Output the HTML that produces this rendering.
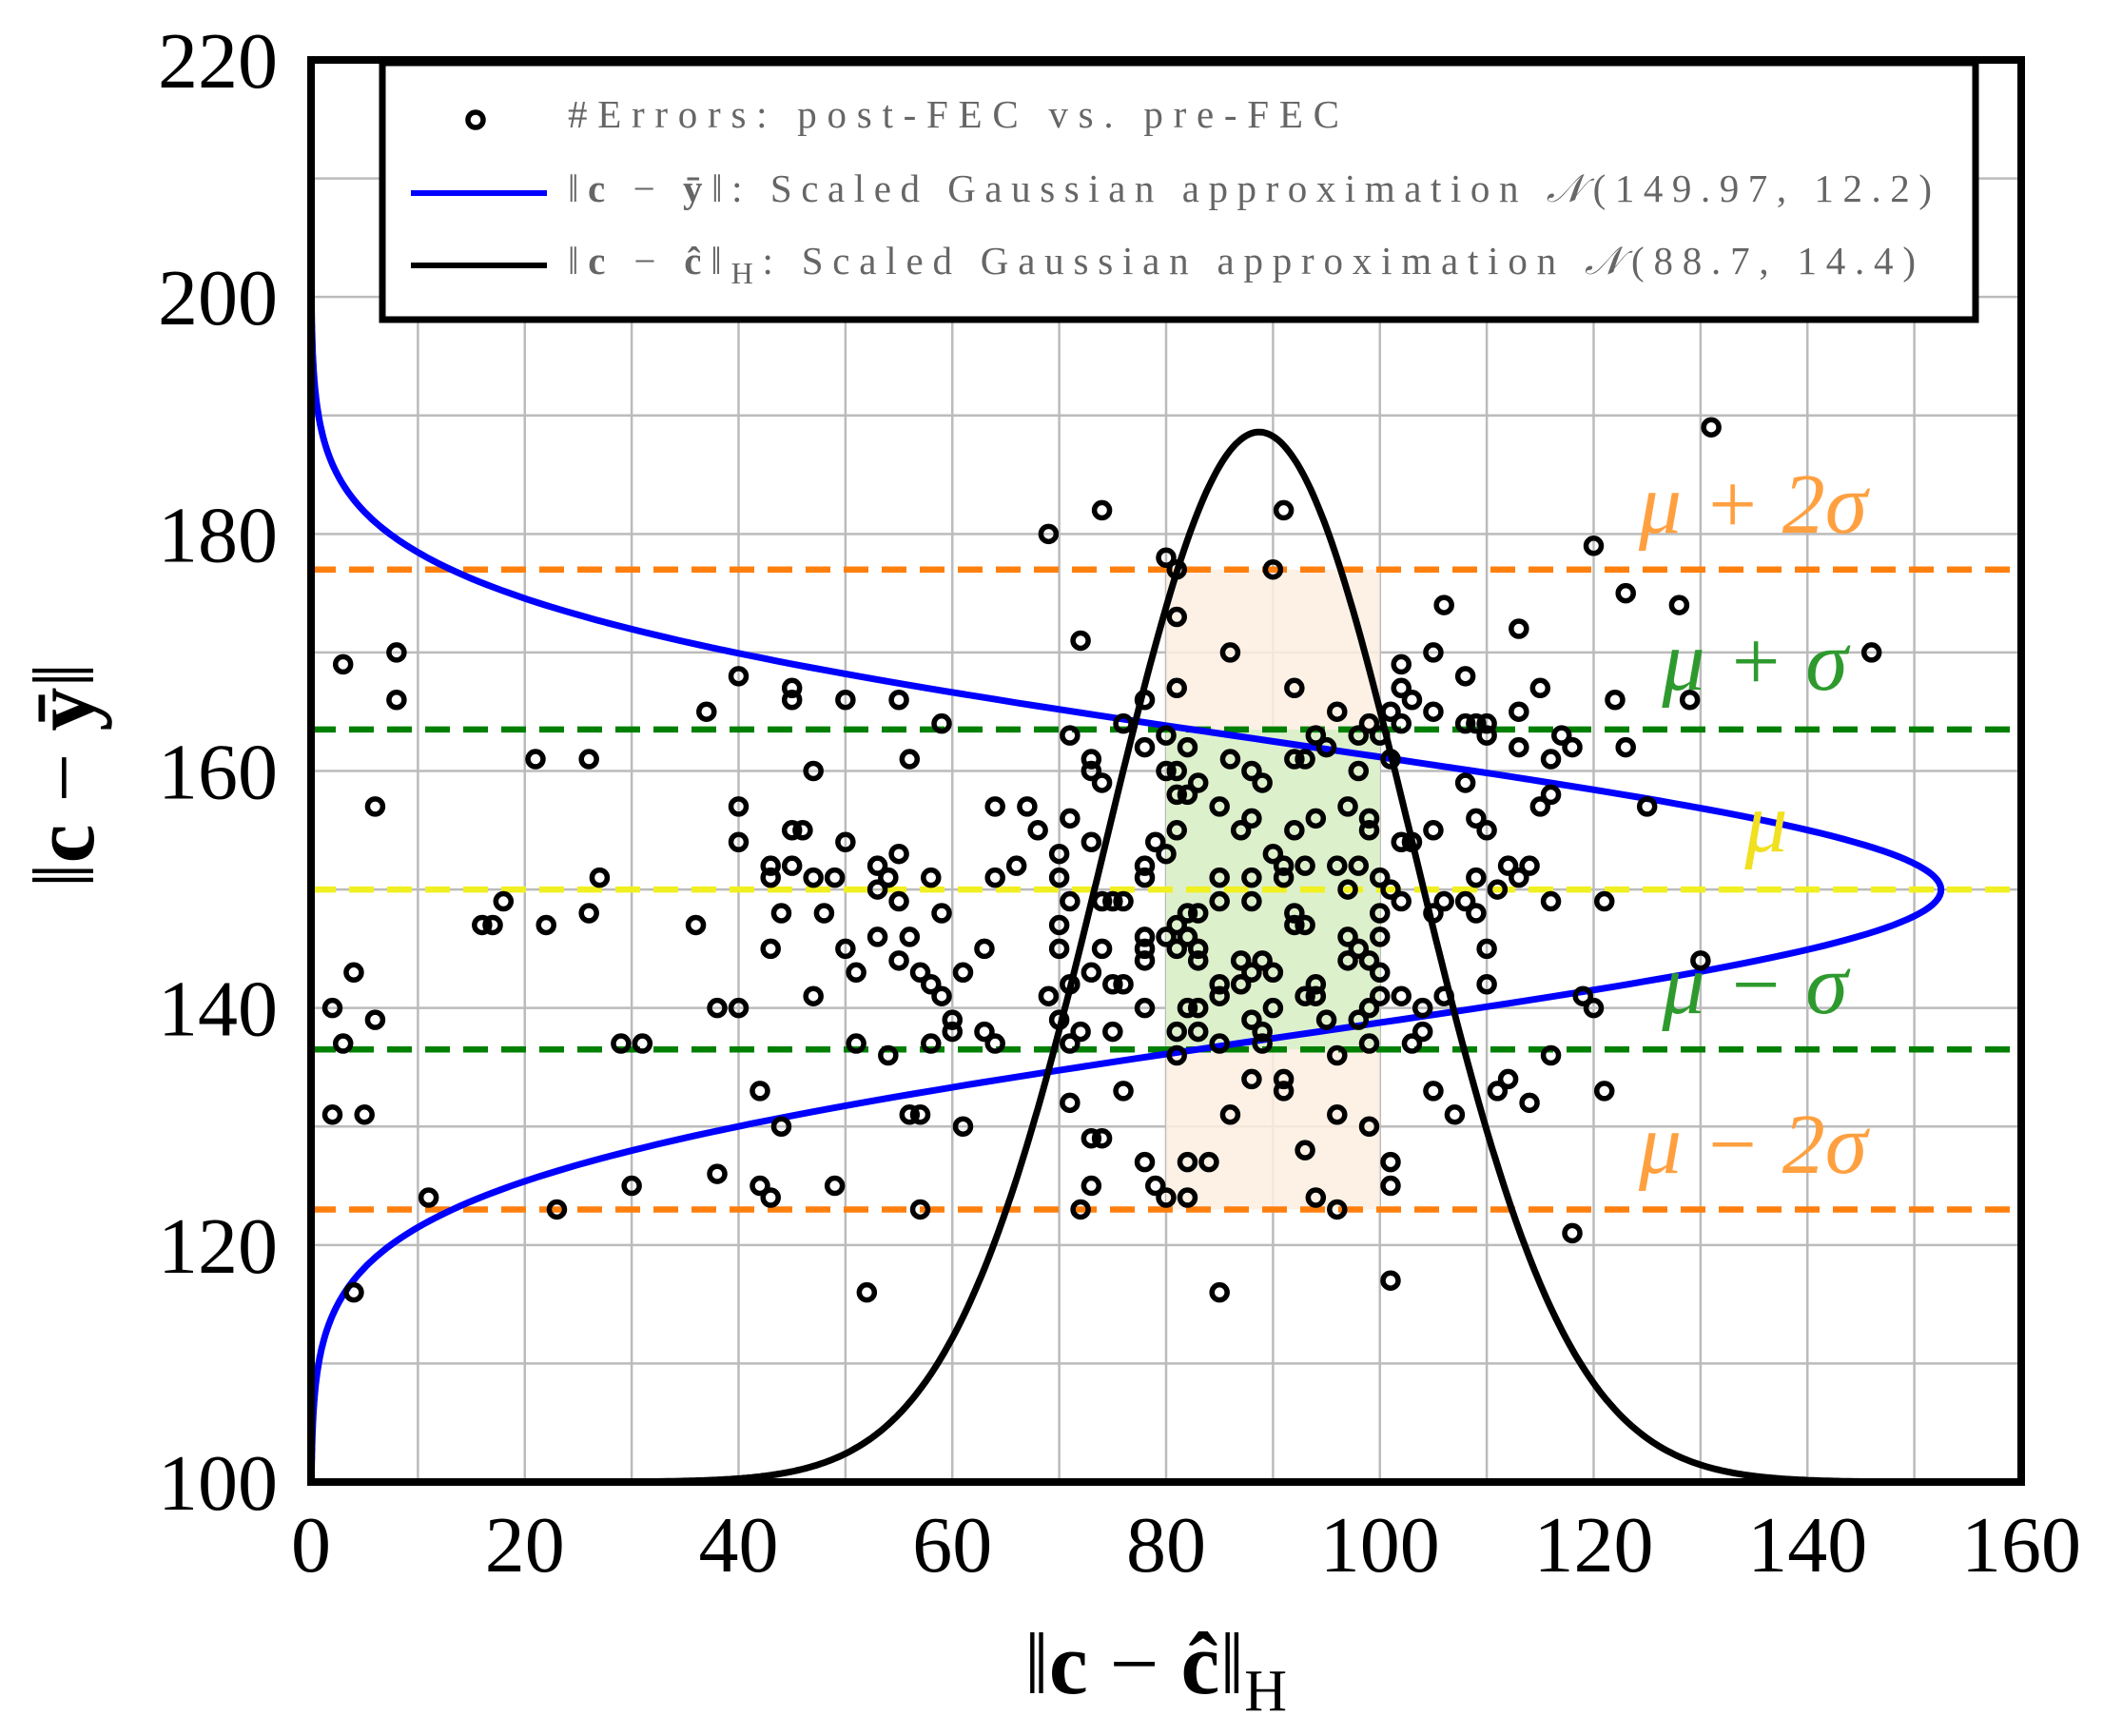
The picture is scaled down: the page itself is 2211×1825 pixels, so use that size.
<!DOCTYPE html>
<html><head><meta charset="utf-8"><style>
html,body{margin:0;padding:0;background:#fff}
svg{display:block}
text{font-family:"Liberation Serif","DejaVu Serif",serif}
</style></head><body>
<svg id="chart" width="2211" height="1825" viewBox="0 0 2211 1825" xmlns="http://www.w3.org/2000/svg">
<g id="grid"></g>
<g id="bands"></g>
<g id="hlines"></g>
<g id="curves"></g>
<g id="points"></g>
<rect x="327" y="63" width="1798" height="1495" fill="none" stroke="#000" stroke-width="8"/>
<g id="ticks"></g>
<g id="labels" font-style="italic" font-size="90">
<text x="1843" y="560" fill="#ffa040" text-anchor="middle">μ + 2σ</text>
<text x="1845" y="725" fill="#2e9a2e" text-anchor="middle">μ + σ</text>
<text x="1857" y="895" fill="#f0e020" text-anchor="middle">μ</text>
<text x="1845" y="1065" fill="#2e9a2e" text-anchor="middle">μ − σ</text>
<text x="1843" y="1233" fill="#ffa040" text-anchor="middle">μ − 2σ</text>
</g>
<g>
<rect x="402" y="66" width="1675" height="270" fill="#fff" stroke="#000" stroke-width="7"/>
<circle cx="500" cy="126" r="8" fill="none" stroke="#000" stroke-width="5.5"/>
<text x="597" y="134" font-size="41" fill="#666" textLength="811" lengthAdjust="spacing">#Errors: post-FEC vs. pre-FEC</text>
<line x1="432" y1="203" x2="575" y2="203" stroke="#0000ff" stroke-width="6"/>
<text x="597" y="212" font-size="41" fill="#666" textLength="1434" lengthAdjust="spacing">‖<tspan font-weight="bold">c</tspan> − <tspan font-weight="bold">ȳ</tspan>‖: Scaled Gaussian approximation <tspan font-style="italic">𝒩</tspan>(149.97, 12.2)</text>
<line x1="432" y1="279" x2="575" y2="279" stroke="#000" stroke-width="6"/>
<text x="597" y="288" font-size="41" fill="#666" textLength="1417" lengthAdjust="spacing">‖<tspan font-weight="bold">c</tspan> − <tspan font-weight="bold">ĉ</tspan>‖<tspan font-size="32" dy="10">H</tspan><tspan dy="-10">: Scaled Gaussian approximation </tspan><tspan font-style="italic">𝒩</tspan>(88.7, 14.4)</text>
</g>
<text x="1215" y="1780" font-size="92" text-anchor="middle">‖<tspan font-weight="bold">c</tspan> − <tspan font-weight="bold">ĉ</tspan>‖<tspan font-size="62" dy="18">H</tspan></text>
<text transform="translate(98,815) rotate(-90)" font-size="92" text-anchor="middle">‖<tspan font-weight="bold">c</tspan> − <tspan font-weight="bold">ȳ</tspan>‖</text>
</svg>
<script>
const xTicks=[0,20,40,60,80,100,120,140,160];
const yTicks=[100,120,140,160,180,200,220];
const blueMu=149.97, blueSigma=12.2, blueAmp=152.5;
const blackMu=88.7, blackSigma=14.4, blackAmp=88.6;
const refLevels=[177,163.5,150,136.5,123];
const refColors=['#ff7f0e','#008000','#f0f020','#008000','#ff7f0e'];
const ptsX=[3,8,8,6,2,3,4,6,2,5,4,11,16,17,18,21,22,26,26,27,23,29,31,30,36,37,38,40,38,40,40,40,42,42,43,43,43,43,44,44,45,45,45,45,46,47,47,47,48,49,49,50,50,50,51,51,52,53,53,53,54,54,55,55,55,55,56,56,56,57,57,57,58,58,58,59,59,59,60,60,61,61,63,63,64,64,64,66,67,68,69,69,70,70,70,70,70,71,71,71,71,71,71,72,72,72,73,73,73,73,73,73,74,74,74,74,74,75,75,75,76,76,76,76,78,78,78,78,78,78,78,78,78,79,79,80,80,80,80,80,80,81,81,81,81,81,81,81,81,81,81,82,82,82,82,82,82,82,83,83,83,83,83,83,84,85,85,85,85,85,85,85,86,86,86,87,87,87,88,88,88,88,88,88,88,89,89,89,89,90,90,90,90,91,91,91,91,91,92,92,92,92,92,93,93,93,93,93,94,94,94,94,94,95,95,96,96,96,96,96,97,97,97,97,98,98,98,98,98,99,99,99,99,99,99,99,100,100,100,100,100,100,101,101,101,101,101,101,102,102,102,102,102,102,103,103,103,104,104,105,105,105,105,105,106,106,106,107,108,108,108,108,109,109,109,109,110,110,110,110,110,111,111,112,112,113,113,113,113,114,114,115,115,116,116,116,116,117,118,118,119,120,120,121,121,122,123,123,125,128,129,130,131,146];
const ptsY=[169,170,166,157,140,137,143,139,131,131,116,124,147,147,149,161,147,161,148,151,123,137,137,125,147,165,140,140,126,168,157,154,133,125,124,145,151,152,148,130,167,166,155,152,155,160,151,141,148,151,125,166,154,145,143,137,116,150,152,146,151,136,166,153,149,144,161,146,131,143,123,131,142,151,137,148,141,164,139,138,143,130,145,138,157,151,137,152,157,155,180,141,151,153,147,145,139,163,156,149,142,137,132,171,138,123,160,161,154,143,129,125,182,159,149,145,129,149,142,138,164,149,142,133,166,162,152,151,146,145,144,140,127,154,125,178,163,160,153,146,124,177,173,167,160,158,155,147,145,138,136,162,158,148,146,140,127,124,159,148,145,144,140,138,127,157,151,149,142,141,137,116,170,161,131,155,144,142,160,156,151,149,143,139,134,159,144,137,138,177,153,143,140,182,152,151,134,133,167,161,155,148,147,161,152,147,141,128,163,156,142,141,124,162,139,165,152,136,131,123,157,150,146,144,163,160,152,145,139,164,156,155,144,140,137,130,163,151,148,146,143,141,165,161,150,127,125,117,169,167,164,154,149,141,166,154,137,140,138,170,165,155,148,133,174,149,141,131,168,164,159,149,164,156,151,148,164,163,155,145,142,150,133,152,134,172,165,162,151,152,132,167,157,161,158,149,136,163,162,121,141,179,140,149,133,166,175,162,157,174,166,144,189,170];
const L=327,R=2125,T=63,B=1558,NS='http://www.w3.org/2000/svg';
const sx=v=>L+(v-0)/160*(R-L);
const sy=v=>B-(v-100)/120*(B-T);
function mk(tag,attrs,parent){const e=document.createElementNS(NS,tag);for(const k in attrs)e.setAttribute(k,attrs[k]);parent.appendChild(e);return e;}
const grid=document.getElementById('grid');
for(let v=10;v<160;v+=10){const e=mk('line',{x1:sx(v),x2:sx(v),y1:T,y2:B,stroke:'#bbb','stroke-width':2.5},grid);

}
for(let v=110;v<220;v+=10){const e=mk('line',{x1:L,x2:R,y1:sy(v),y2:sy(v),stroke:'#bbb','stroke-width':2.5},grid);

}
const bands=document.getElementById('bands');
const b1=mk('rect',{x:sx(80),y:sy(refLevels[0]),width:sx(100)-sx(80),height:sy(refLevels[4])-sy(refLevels[0]),fill:'#fdeee0',opacity:0.85},bands);


const b2=mk('rect',{x:sx(80),y:sy(refLevels[1]),width:sx(100)-sx(80),height:sy(refLevels[3])-sy(refLevels[1]),fill:'#ddf0cc'},bands);


const hl=document.getElementById('hlines');
refLevels.forEach((v,i)=>{const e=mk('line',{x1:L,x2:R,y1:sy(v),y2:sy(v),stroke:refColors[i],'stroke-width':6.5,'stroke-dasharray':'26 14'},hl);

});
const cv=document.getElementById('curves');
let d='';for(let y=100;y<=210;y+=0.25){const x=blueAmp*Math.exp(-Math.pow(y-blueMu,2)/(2*blueSigma*blueSigma));d+=(d?'L':'M')+sx(x).toFixed(1)+','+sy(y).toFixed(1);}
const bc=mk('path',{d:d,fill:'none',stroke:'#0000ff','stroke-width':7},cv);


d='';for(let x=0;x<=160;x+=0.25){const y=100+blackAmp*Math.exp(-Math.pow(x-blackMu,2)/(2*blackSigma*blackSigma));d+=(d?'L':'M')+sx(x).toFixed(1)+','+sy(y).toFixed(1);}
const kc=mk('path',{d:d,fill:'none',stroke:'#000','stroke-width':7},cv);


const pg=document.getElementById('points');
ptsX.forEach((x,i)=>{const c=mk('circle',{cx:sx(x),cy:sy(ptsY[i]),r:8,fill:'none',stroke:'#000','stroke-width':5.5},pg);

});
const tk=document.getElementById('ticks');
xTicks.forEach(v=>{const t=mk('text',{x:sx(v),y:1652,'font-size':84,'text-anchor':'middle'},tk);t.textContent=v;

});
yTicks.forEach(v=>{const t=mk('text',{x:292,y:sy(v)+29,'font-size':84,'text-anchor':'end'},tk);t.textContent=v;

});
</script>
</body></html>
